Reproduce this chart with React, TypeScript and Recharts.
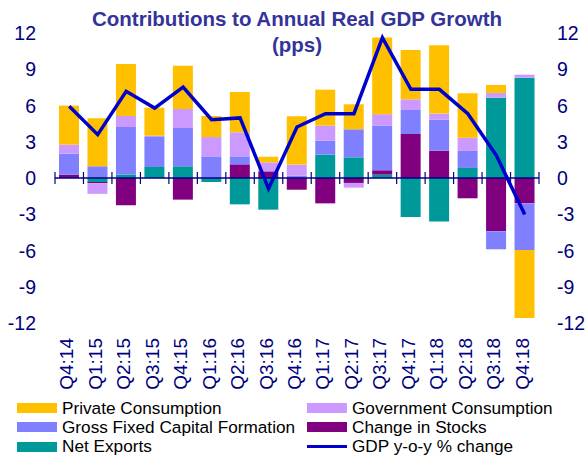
import React from 'react';
import { ComposedChart, Bar, Line, XAxis, YAxis, ReferenceLine } from 'recharts';

const categories = ['Q4:14','Q1:15','Q2:15','Q3:15','Q4:15','Q1:16','Q2:16','Q3:16','Q4:16','Q1:17','Q2:17','Q3:17','Q4:17','Q1:18','Q2:18','Q3:18','Q4:18'];
const netExports = [0, -0.33, 0.28, 0.91, 0.97, -0.33, -2.18, -2.62, 0, 1.93, 1.71, 0.28, -3.23, -3.61, 0.83, 6.65, 8.3];
const changeInStocks = [0.28, -0.1, -2.26, 0, -1.79, 0, 1.13, 0.55, -0.97, -2.1, -0.41, 0.36, 3.64, 2.26, -1.68, -4.41, -2.1];
const grossFixedCapital = [1.74, 0.97, 3.94, 2.54, 3.17, 1.79, 0.66, 0, 0.2, 1.16, 2.32, 3.67, 1.99, 2.57, 1.41, -1.49, -3.86];
const govConsumption = [0.74, -0.88, 0.91, 0.05, 1.57, 1.6, 1.99, 0.74, 0.91, 1.24, -0.39, 0.97, 0.88, 0.5, 1.1, 0.39, 0.25];
const privateConsumption = [3.23, 3.97, 4.3, 2.32, 3.59, 1.74, 3.34, 0.47, 4.0, 2.98, 2.07, 6.34, 4.08, 5.66, 3.67, 0.66, -5.63];
const gdpGrowth = [5.93, 3.59, 7.17, 5.79, 7.53, 4.83, 4.97, -0.88, 4.22, 5.32, 5.32, 11.61, 7.34, 7.34, 5.32, 1.88, -3.03];
const yTicks = [-12, -9, -6, -3, 0, 3, 6, 9, 12];

const data = categories.map((q, i) => ({
  q,
  ne: netExports[i],
  st: changeInStocks[i],
  gf: grossFixedCapital[i],
  gc: govConsumption[i],
  pc: privateConsumption[i],
  gdp: gdpGrowth[i],
}));

const COLORS = {
  pc: '#FFC000',
  gc: '#CC99FF',
  gf: '#8080FF',
  st: '#800080',
  ne: '#009999',
  gdp: '#0000CC',
};
const NAVY = '#000080';
const FONT = 'Arial, "Liberation Sans", sans-serif';

const legendItems = [
  { key: 'pc', name: 'Private Consumption', type: 'bar' },
  { key: 'gc', name: 'Government Consumption', type: 'bar' },
  { key: 'gf', name: 'Gross Fixed Capital Formation', type: 'bar' },
  { key: 'st', name: 'Change in Stocks', type: 'bar' },
  { key: 'ne', name: 'Net Exports', type: 'bar' },
  { key: 'gdp', name: 'GDP y-o-y % change', type: 'line' },
];

const ZeroLine = (props: any) => {
  const { x1, x2, y1 } = props;
  const n = categories.length;
  const step = (x2 - x1) / n;
  const ticks = [];
  for (let i = 0; i <= n; i++) {
    const x = x1 + i * step;
    ticks.push(<line key={i} x1={x} x2={x} y1={y1 - 6} y2={y1 + 6} stroke={NAVY} strokeWidth={1.2} />);
  }
  return (
    <g>
      <line x1={x1} x2={x2} y1={y1} y2={y1} stroke={NAVY} strokeWidth={1.5} />
      {ticks}
    </g>
  );
};

const XTick = (props: any) => {
  const { x, y, payload } = props;
  return (
    <g transform={`translate(${x},${y})`}>
      <text x={0} y={0} dy={4} textAnchor="end" transform="rotate(-90)" fill={NAVY} fontSize={19} fontFamily={FONT}>
        {payload.value}
      </text>
    </g>
  );
};

const YTick = (props: any) => {
  const { x, y, payload, anchor } = props;
  return (
    <text x={x} y={y} dy={7} textAnchor={anchor} fill={NAVY} fontSize={19.5} fontFamily={FONT}>
      {payload.value}
    </text>
  );
};

export default function App() {
  return (
    <div style={{ position: 'absolute', left: 0, top: 0, width: 587, height: 458, background: '#fff', fontFamily: FONT }}>
      <ComposedChart
        width={587}
        height={400}
        data={data}
        stackOffset="sign"
        margin={{ top: 33, right: 0, bottom: 0, left: 0 }}
        barSize={20}
      >
        <XAxis
          dataKey="q"
          xAxisId="x"
          axisLine={false}
          tickLine={false}
          interval={0}
          height={77}
          tickSize={0}
          tickMargin={15}
          tick={<XTick />}
        />
        <YAxis
          yAxisId="left"
          domain={[-12, 12]}
          allowDataOverflow
          ticks={yTicks}
          interval={0}
          width={55}
          axisLine={false}
          tickLine={false}
          tickSize={0}
          tickMargin={19}
          tick={<YTick anchor="end" />}
        />
        <YAxis
          yAxisId="right"
          orientation="right"
          domain={[-12, 12]}
          allowDataOverflow
          ticks={yTicks}
          interval={0}
          width={48}
          axisLine={false}
          tickLine={false}
          tickSize={0}
          tickMargin={18}
          tick={<YTick anchor="start" />}
        />
        <Bar dataKey="ne" stackId="a" fill={COLORS.ne} xAxisId="x" yAxisId="left" isAnimationActive={false} />
        <Bar dataKey="st" stackId="a" fill={COLORS.st} xAxisId="x" yAxisId="left" isAnimationActive={false} />
        <Bar dataKey="gf" stackId="a" fill={COLORS.gf} xAxisId="x" yAxisId="left" isAnimationActive={false} />
        <Bar dataKey="gc" stackId="a" fill={COLORS.gc} xAxisId="x" yAxisId="left" isAnimationActive={false} />
        <Bar dataKey="pc" stackId="a" fill={COLORS.pc} xAxisId="x" yAxisId="left" isAnimationActive={false} />
        <ReferenceLine y={0} xAxisId="x" yAxisId="left" shape={<ZeroLine />} />
        <Line
          dataKey="gdp"
          xAxisId="x"
          yAxisId="right"
          stroke={COLORS.gdp}
          strokeWidth={3.5}
          dot={false}
          activeDot={false}
          isAnimationActive={false}
        />
      </ComposedChart>
      <div
        style={{
          position: 'absolute',
          left: 0,
          top: 0,
          width: 594,
          textAlign: 'center',
          color: '#333399',
          fontWeight: 'bold',
          fontSize: 20.5,
          lineHeight: '26px',
          paddingTop: 6,
          pointerEvents: 'none',
        }}
      >
        <div>Contributions to Annual Real GDP Growth</div>
        <div>(pps)</div>
      </div>
      {legendItems.map((it, i) => {
        const col = i % 2;
        const row = Math.floor(i / 2);
        const left = col === 0 ? 17 : 307;
        const top = 398 + row * 19.3;
        return (
          <div key={it.key} style={{ position: 'absolute', left, top, height: 20, display: 'flex', alignItems: 'center', whiteSpace: 'nowrap' }}>
            {it.type === 'bar' ? (
              <div style={{ width: 40, height: 10, background: (COLORS as any)[it.key] }} />
            ) : (
              <div style={{ width: 40, height: 3, background: (COLORS as any)[it.key] }} />
            )}
            <span style={{ marginLeft: 5, fontSize: 17.2, color: '#000', fontFamily: FONT }}>{it.name}</span>
          </div>
        );
      })}
    </div>
  );
}
